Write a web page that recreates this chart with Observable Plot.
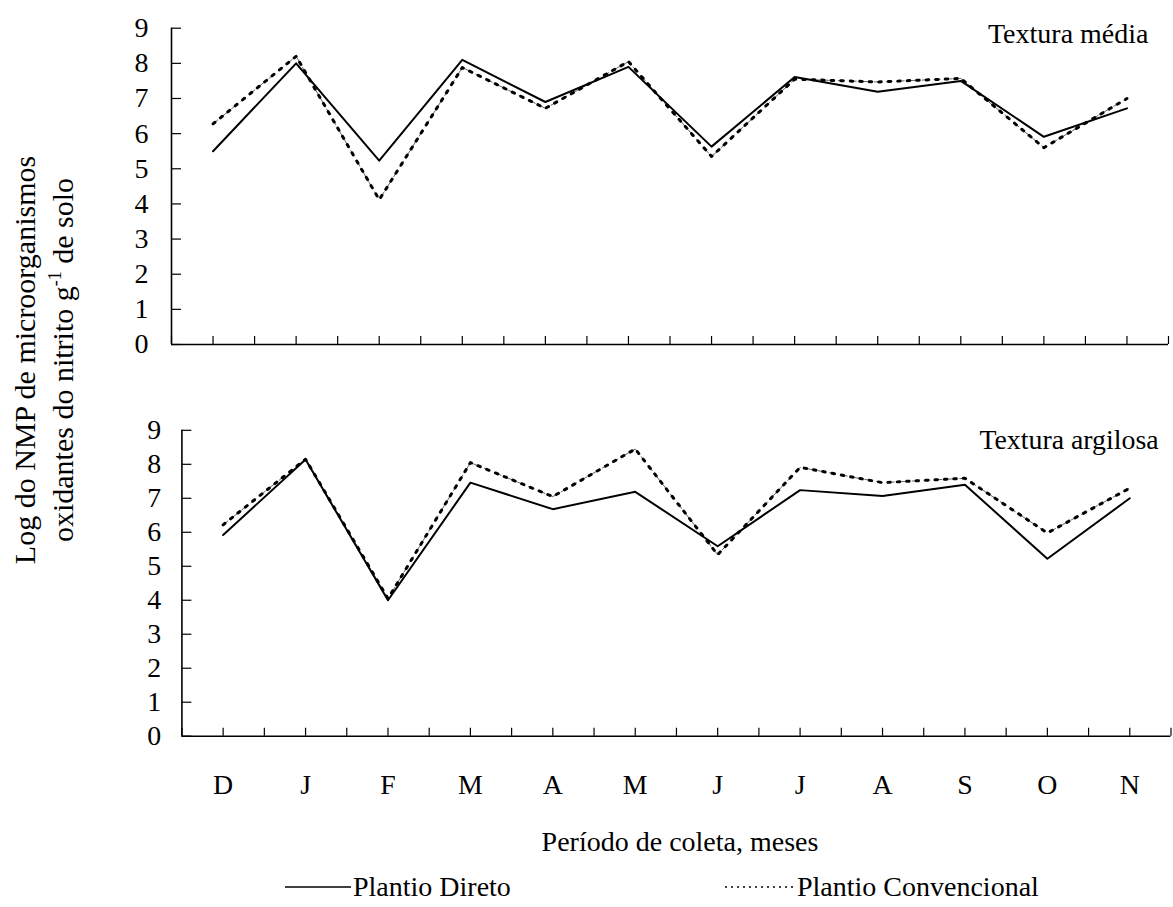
<!DOCTYPE html>
<html>
<head>
<meta charset="utf-8">
<script src="https://cdn.jsdelivr.net/npm/d3@7"></script>
<script src="https://cdn.jsdelivr.net/npm/@observablehq/plot@0.6"></script>
<style>
  body { margin: 0; background: #fff; }
  #chart {
    position: relative; width: 1173px; height: 907px; overflow: hidden;
    font-family: "Liberation Serif", "Times New Roman", serif; color: #000; background: #fff;
  }
  .abs { position: absolute; }
  #ytitle {
    width: 460px; height: 76px; left: -186px; top: 322px;
    font-size: 30px; line-height: 38px; text-align: center; white-space: nowrap;
    transform: rotate(-90deg); transform-origin: 50% 50%;
  }
  #ytitle sup { font-size: 18px; line-height: 0; vertical-align: 0; position: relative; top: -12px; }
  #xtitle { left: 480px; width: 400px; top: 826px; text-align: center; font-size: 28px; line-height: 32px; }
  .leg { top: 871px; font-size: 28px; line-height: 32px; white-space: nowrap; display: flex; align-items: center; }
  .leg svg { display: block; margin-right: 2px; }
</style>
</head>
<body>
<div id="chart">
  <div id="ytitle" class="abs">Log do NMP de microorganismos<br>oxidantes do nitrito g<sup>-1</sup> de solo</div>
  <div id="xtitle" class="abs">Período de coleta, meses</div>
  <div class="abs leg" style="left:285px;">
    <svg width="66" height="10"><line x1="0" x2="66" y1="5" y2="5" stroke="#000" stroke-width="1.6"/></svg>
    <span>Plantio Direto</span>
  </div>
  <div class="abs leg" style="left:725px;">
    <svg width="70" height="10"><line x1="0" x2="70" y1="5" y2="5" stroke="#000" stroke-width="1.6" stroke-dasharray="2,4"/></svg>
    <span>Plantio Convencional</span>
  </div>
</div>
<script>
// Collection months (December to November)
const months = ["D", "J", "F", "M", "A", "M", "J", "J", "A", "S", "O", "N"];
const yTicks = [0, 1, 2, 3, 4, 5, 6, 7, 8, 9];

// Log MPN of nitrite-oxidizing microorganisms per g of soil
const mediaDireto       = [5.50, 8.00, 5.23, 8.10, 6.90, 7.90, 5.63, 7.61, 7.19, 7.50, 5.91, 6.72];
const mediaConvencional = [6.28, 8.20, 4.12, 7.88, 6.72, 8.05, 5.35, 7.55, 7.47, 7.57, 5.60, 7.00];
const argilosaDireto       = [5.92, 8.14, 4.00, 7.46, 6.68, 7.19, 5.59, 7.24, 7.07, 7.40, 5.22, 7.00];
const argilosaConvencional = [6.22, 8.15, 4.05, 8.05, 7.05, 8.45, 5.34, 7.91, 7.46, 7.59, 5.98, 7.30];

// month i sits in the middle of band [i, i+1]; ticks mark both centres and band edges
const halfTicks = d3.range(0, 12.001, 0.5);
const centreTicks = d3.range(0.5, 12, 1);

function panel({direto, convencional, title, width, height, marginLeft, marginRight, marginTop, marginBottom,
                labelPadding, showMonths, titleDx, titleDy}) {
  const rows = months.map((m, i) => ({pos: i + 0.5, direto: direto[i], conv: convencional[i]}));
  return Plot.plot({
    width, height, marginLeft, marginRight, marginTop, marginBottom,
    style: {fontFamily: '"Liberation Serif", "Times New Roman", serif', fontSize: "28px", color: "#000",
            background: "transparent", overflow: "visible"},
    x: {domain: [0, 12]},
    y: {domain: [0, 9]},
    marks: [
      Plot.axisY({ticks: yTicks, tickSize: -10, tickPadding: labelPadding, tickFormat: d => String(d),
                  label: null, fontSize: 28, strokeWidth: 1.2}),
      Plot.axisX({ticks: halfTicks, tickSize: -8, fill: "none", label: null, strokeWidth: 1.2}),
      showMonths
        ? Plot.axisX({ticks: centreTicks, tickSize: 0, tickPadding: 38, tickFormat: d => months[Math.round(d - 0.5)],
                      label: null, fontSize: 28})
        : null,
      Plot.ruleY([0], {strokeWidth: 1.6}),
      Plot.ruleX([0], {strokeWidth: 1.6}),
      // Plantio Convencional: fine dashed trace under heavy dots
      Plot.line(rows, {x: "pos", y: "conv", stroke: "#555", strokeWidth: 0.9, strokeDasharray: "6,6"}),
      Plot.line(rows, {x: "pos", y: "conv", stroke: "#000", strokeWidth: 3, strokeDasharray: "2.5,7"}),
      // Plantio Direto: solid
      Plot.line(rows, {x: "pos", y: "direto", stroke: "#000", strokeWidth: 2}),
      Plot.text([title], {frameAnchor: "top-right", textAnchor: "end", lineAnchor: "middle",
                          dx: titleDx, dy: titleDy, fontSize: 28, fill: "#000"})
    ]
  });
}

(() => {
  const chart = document.getElementById("chart");

  const upper = panel({
    direto: mediaDireto, convencional: mediaConvencional, title: "Textura média",
    width: 1173, height: 360, marginLeft: 171, marginRight: 5, marginTop: 27.7, marginBottom: 16,
    labelPadding: 33, showMonths: false, titleDx: -20, titleDy: 5.5
  });
  upper.classList.add("abs");
  upper.style.left = "0px"; upper.style.top = "0px";
  chart.appendChild(upper);

  const lower = panel({
    direto: argilosaDireto, convencional: argilosaConvencional, title: "Textura argilosa",
    width: 1180, height: 420, marginLeft: 182.5, marginRight: 2.5, marginTop: 30, marginBottom: 82.3,
    labelPadding: 31, showMonths: true, titleDx: -12.5, titleDy: 10
  });
  lower.classList.add("abs");
  lower.style.left = "0px"; lower.style.top = "400px";
  chart.appendChild(lower);
})();
</script>
</body>
</html>
